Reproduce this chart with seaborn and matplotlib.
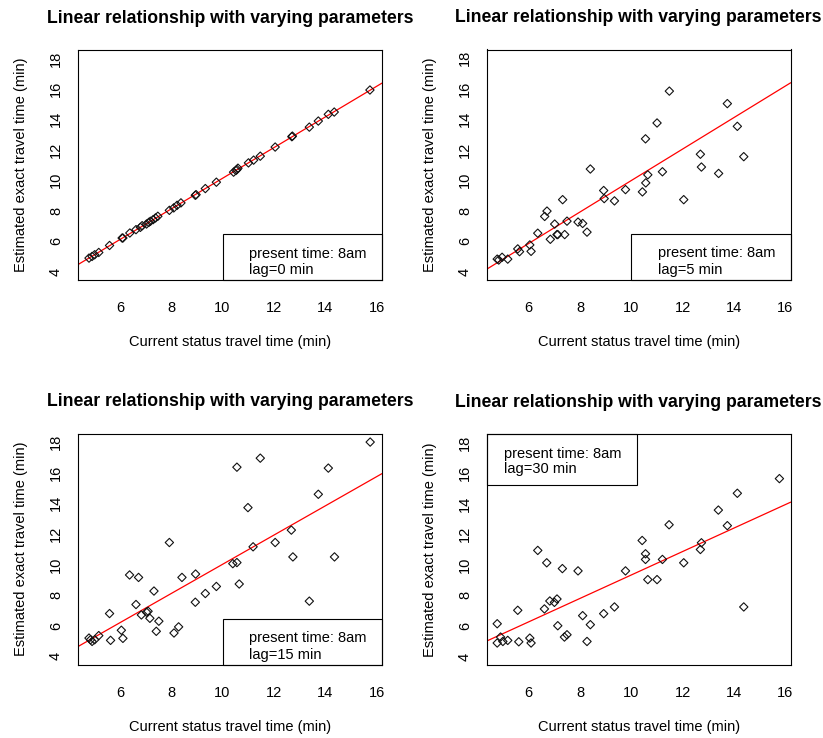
import matplotlib
matplotlib.use("Agg")
import matplotlib.pyplot as plt
import seaborn as sns
import pandas as pd
from matplotlib.patches import Rectangle

# ---------------- data ----------------
x_lag0 = [4.80, 4.92, 5.02, 5.18, 5.60, 6.09, 6.12, 6.39, 6.63, 6.80, 6.87, 7.04, 7.13,
          7.19, 7.30, 7.39, 7.48, 7.93, 8.10, 8.23, 8.38, 8.94, 8.97, 9.33, 9.76, 10.43,
          10.52, 10.56, 10.60, 11.01, 11.21, 11.47, 12.05, 12.70, 12.72, 13.38, 13.73,
          14.12, 14.35, 15.74]
y_lag0 = [4.88, 4.99, 5.10, 5.25, 5.71, 6.20, 6.20, 6.53, 6.75, 6.90, 7.01, 7.12, 7.23,
          7.30, 7.41, 7.52, 7.63, 8.02, 8.18, 8.35, 8.51, 9.01, 9.05, 9.45, 9.87, 10.53,
          10.64, 10.70, 10.79, 11.14, 11.32, 11.58, 12.18, 12.86, 12.90, 13.49, 13.89,
          14.33, 14.48, 15.93]

# last point (x=15.77) lies above the plotted range in the reference
x_lag5 = [4.77, 4.83, 4.96, 5.18, 5.57, 5.64, 6.04, 6.09, 6.35, 6.62, 6.71, 6.84, 7.01,
          7.10, 7.13, 7.32, 7.40, 7.49, 7.92, 8.10, 8.27, 8.40, 8.92, 8.94, 9.34, 9.77,
          10.43, 10.55, 10.56, 10.64, 11.00, 11.21, 11.48, 12.04, 12.69, 12.73, 13.40,
          13.74, 14.13, 14.38, 15.77]
y_lag5 = [4.81, 4.75, 4.93, 4.81, 5.48, 5.30, 5.74, 5.32, 6.51, 7.61, 7.96, 6.11, 7.11,
          6.42, 6.42, 8.71, 6.42, 7.30, 7.24, 7.15, 6.58, 10.72, 9.31, 8.78, 8.63, 9.37,
          9.22, 12.70, 9.81, 10.34, 13.74, 10.54, 15.83, 8.71, 11.69, 10.85, 10.43,
          15.01, 13.52, 11.53, 21.4]

x_lag15 = [4.80, 4.86, 4.92, 5.02, 5.18, 5.60, 5.64, 6.06, 6.12, 6.38, 6.63, 6.73, 6.84,
           7.04, 7.10, 7.17, 7.33, 7.42, 7.52, 7.93, 8.11, 8.29, 8.42, 8.94, 8.95, 9.33,
           9.76, 10.40, 10.56, 10.56, 10.65, 10.99, 11.19, 11.47, 12.05, 12.68, 12.74,
           13.38, 13.73, 14.12, 14.36, 15.75]
y_lag15 = [5.20, 5.09, 4.98, 5.09, 5.36, 6.80, 5.05, 5.71, 5.18, 9.32, 7.39, 9.16, 6.71,
           6.89, 6.95, 6.49, 8.27, 5.64, 6.30, 11.44, 5.53, 5.93, 9.16, 7.54, 9.38, 8.11,
           8.57, 10.06, 16.36, 10.13, 8.73, 13.72, 11.16, 16.95, 11.44, 12.25, 10.50,
           7.61, 14.59, 16.30, 10.50, 18.00]

x_lag30 = [4.77, 4.77, 4.90, 4.99, 5.18, 5.57, 5.61, 6.04, 6.09, 6.35, 6.61, 6.70, 6.82,
           7.00, 7.10, 7.13, 7.31, 7.39, 7.49, 7.92, 8.10, 8.27, 8.40, 8.92, 9.34, 9.77,
           10.42, 10.55, 10.55, 10.64, 11.00, 11.21, 11.47, 12.04, 12.69, 12.73, 13.39,
           13.74, 14.13, 14.38, 15.77]
y_lag30 = [6.14, 4.88, 5.27, 4.98, 5.05, 7.02, 4.96, 5.20, 4.88, 10.94, 7.11, 10.13, 7.63,
           7.54, 7.76, 6.01, 9.75, 5.27, 5.42, 9.60, 6.67, 4.98, 6.08, 6.80, 7.24, 9.60,
           11.59, 10.72, 10.35, 9.03, 9.03, 10.35, 12.62, 10.13, 11.00, 11.44, 13.58,
           12.56, 14.68, 7.24, 15.64]

lag_labels = ["lag=0 min", "lag=5 min", "lag=15 min", "lag=30 min"]
present_label = "present time: 8am"
title_text = "Linear relationship with varying parameters"
x_label = "Current status travel time (min)"
y_label = "Estimated exact travel time (min)"
x_ticks = [6, 8, 10, 12, 14, 16]
y_ticks = [4, 6, 8, 10, 12, 14, 16, 18]

series = [(x_lag0, y_lag0), (x_lag5, y_lag5), (x_lag15, y_lag15), (x_lag30, y_lag30)]

# ---------------- style ----------------
sns.set_style("white")
plt.rcParams['font.family'] = ['Liberation Sans', 'DejaVu Sans']
plt.rcParams['axes.edgecolor'] = 'black'
plt.rcParams['axes.linewidth'] = 0.8
plt.rcParams['text.color'] = 'black'
plt.rcParams['xtick.color'] = 'black'
plt.rcParams['ytick.color'] = 'black'

W, H = 823, 738
fig = plt.figure(figsize=(W / 100, H / 100), dpi=100)
fig.patch.set_facecolor('white')

# axes boxes in pixels (left, top, right, bottom)
boxes = [(77.7, 50.0, 382.0, 280.0), (486.7, 49.5, 790.7, 280.0),
         (77.7, 433.5, 382.0, 665.0), (486.7, 434.0, 790.7, 665.0)]

XLIM = (4.36, 16.21)
YLIM = (3.44, 18.56)
FS = 10.5

for i, ((xs, ys), (l, t, r, b)) in enumerate(zip(series, boxes)):
    ax = fig.add_axes([l / W, 1 - b / H, (r - l) / W, (b - t) / H])
    df = pd.DataFrame({"x": xs, "y": ys})
    ax.set_xlim(*XLIM)
    ax.set_ylim(*YLIM)
    sns.regplot(data=df, x="x", y="y", ax=ax, scatter=False, ci=None, truncate=False,
                line_kws=dict(color='#ff0000', lw=0.9))
    sns.scatterplot(data=df, x="x", y="y", ax=ax, marker='D', s=18,
                    facecolor='none', edgecolor='#111111', linewidth=0.8, zorder=3)
    ax.set_xlim(*XLIM)
    ax.set_ylim(*YLIM)
    ax.set_xticks(x_ticks)
    ax.set_yticks(y_ticks)
    ax.set_xlabel("")
    ax.set_ylabel("")
    ax.tick_params(axis='both', direction='out', length=6, width=0.8,
                   colors='black', labelsize=FS)
    ax.tick_params(axis='x', pad=9)
    ax.tick_params(axis='y', pad=4.5, labelrotation=90)
    for lab in ax.get_yticklabels():
        lab.set_va('center')
    for sp in ax.spines.values():
        sp.set_visible(True)
        sp.set_color('black')
        sp.set_linewidth(0.8)

    hpx = b - t
    wpx = r - l
    ax.text(0.5, 1 + 31.5 / hpx, title_text, transform=ax.transAxes, ha='center',
            va='center', fontsize=12.7, fontweight='bold')
    ax.text(0.5, -61.7 / hpx, x_label, transform=ax.transAxes, ha='center',
            va='center', fontsize=FS)
    ax.text(-57.0 / wpx, 0.5, y_label, transform=ax.transAxes, ha='center',
            va='center', rotation=90, fontsize=FS)

    # legend box
    if i < 3:
        ax.add_patch(Rectangle((10.0, YLIM[0]), XLIM[1] - 10.0, 6.47 - YLIM[0],
                               fill=False, edgecolor='black', lw=0.8, zorder=4,
                               clip_on=False))
        ax.text(11.02, 5.18, present_label, fontsize=FS, va='center', ha='left')
        ax.text(11.02, 4.08, lag_labels[i], fontsize=FS, va='center', ha='left')
    else:
        ax.add_patch(Rectangle((XLIM[0], 15.22), 10.22 - XLIM[0], YLIM[1] - 15.22,
                               fill=False, edgecolor='black', lw=0.8, zorder=4,
                               clip_on=False))
        ax.text(5.03, 17.28, present_label, fontsize=FS, va='center', ha='left')
        ax.text(5.03, 16.24, lag_labels[i], fontsize=FS, va='center', ha='left')

fig.savefig("out.png", dpi=100, facecolor='white')
